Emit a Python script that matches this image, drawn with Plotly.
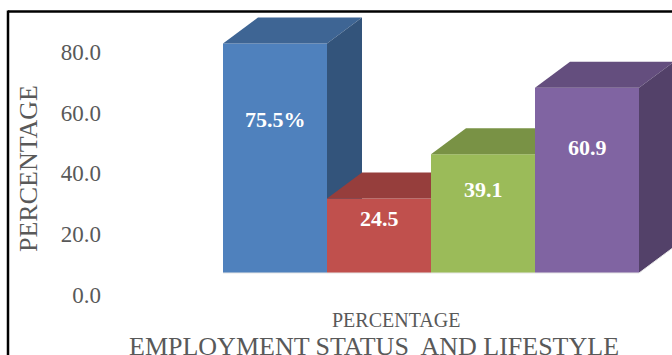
import plotly.graph_objects as go

# Employment status and lifestyle: share of respondents per group (%)
categories = ["Group 1", "Group 2", "Group 3", "Group 4"]
values = [75.5, 24.5, 39.1, 60.9]
label_suffix = ["%", "", "", ""]
front_colors = ["#4F81BD", "#C0504D", "#9BBB59", "#8064A2"]
top_colors = ["#3E6594", "#963E3C", "#799245", "#644E7E"]
side_colors = ["#33547B", "#7D3432", "#657A3A", "#534169"]
tick_values = [0, 20, 40, 60, 80]

W, H = 672, 355
# pixel geometry of the plotting frame
PX_PER_CAT = 104.0      # width of one column
PX_PER_UNIT = 3.04      # pixels per percentage point
X_LEFT_PX = 223.0       # left edge of the first column
BASE_PX = 273.0         # floor of the columns
TICK_ZERO_PX = 295.0    # where 0.0 sits on the value scale
DEPTH_X_PX, DEPTH_Y_PX = 35.0, 26.0

x0 = -0.5 - X_LEFT_PX / PX_PER_CAT
x_range = [x0, x0 + W / PX_PER_CAT]
y_range = [-(H - BASE_PX) / PX_PER_UNIT, BASE_PX / PX_PER_UNIT]
y2_range = [-(H - TICK_ZERO_PX) / PX_PER_UNIT, TICK_ZERO_PX / PX_PER_UNIT]
dx = DEPTH_X_PX / PX_PER_CAT
dy = DEPTH_Y_PX / PX_PER_UNIT

fig = go.Figure()


def face(xs, ys, color):
    fig.add_trace(go.Scatter(
        x=xs + [xs[0]], y=ys + [ys[0]], mode="lines", fill="toself",
        fillcolor=color, line=dict(width=0, color=color),
        hoverinfo="skip", showlegend=False,
    ))


# columns drawn left to right so later ones hide the depth faces behind them
for i, v in enumerate(values):
    l, r = i - 0.5, i + 0.5
    face([l, r, r, l], [0, 0, v, v], front_colors[i])
    face([l, r, r + dx, l + dx], [v, v, v + dy, v + dy], top_colors[i])
    face([r, r + dx, r + dx, r], [0, dy, v + dy, v], side_colors[i])

# floor edge highlight
fig.add_trace(go.Scatter(
    x=[-0.5, len(values) - 0.5, len(values) - 0.5 + dx],
    y=[0, 0, dy], mode="lines", line=dict(color="#E6E6E6", width=1),
    hoverinfo="skip", showlegend=False,
))

# value-scale carrier for the tick labels
fig.add_trace(go.Scatter(
    x=[0], y=[0], yaxis="y2", mode="markers", marker=dict(opacity=0),
    hoverinfo="skip", showlegend=False,
))

# data labels
for i, v in enumerate(values):
    fig.add_annotation(
        x=i, y=0.635 * v + 2.5, xref="x", yref="y",
        xanchor="center", yanchor="middle",
        text=f"<b>{v:.1f}{label_suffix[i]}</b>", showarrow=False,
        font=dict(family="Liberation Serif", size=22, color="white"),
    )

serif = "Liberation Serif"
grey = "#595959"


def paper_text(px, py, text, size, angle=0):
    fig.add_annotation(
        x=px / W, y=1 - py / H, xref="paper", yref="paper",
        xanchor="center", yanchor="middle", textangle=angle,
        text=text, showarrow=False,
        font=dict(family=serif, size=size, color=grey),
    )


paper_text(28, 169, "PERCENTAGE", 26, angle=-90)
paper_text(396, 320, "PERCENTAGE", 20)
paper_text(374, 346, "EMPLOYMENT STATUS  AND LIFESTYLE", 26)

# chart frame
fig.add_shape(type="line", xref="paper", yref="paper",
              x0=8 / W, x1=1.02, y0=1 - 11.5 / H, y1=1 - 11.5 / H,
              line=dict(color="black", width=2.5))
fig.add_shape(type="line", xref="paper", yref="paper",
              x0=8 / W, x1=8 / W, y0=1 - 10.5 / H, y1=-0.02,
              line=dict(color="black", width=2.5))

fig.update_layout(
    width=W, height=H,
    margin=dict(l=0, r=0, t=0, b=0),
    paper_bgcolor="white", plot_bgcolor="white",
    xaxis=dict(range=x_range, visible=False, fixedrange=True),
    yaxis=dict(range=y_range, visible=False, fixedrange=True),
    yaxis2=dict(
        range=y2_range, overlaying="y", anchor="free", position=101 / W,
        side="left", tickvals=tick_values,
        ticktext=[f"{t:.1f}" for t in tick_values],
        tickfont=dict(family=serif, size=23, color=grey),
        showgrid=False, zeroline=False, showline=False, ticks="",
        fixedrange=True,
    ),
    showlegend=False,
)

fig.write_html("out.html")
